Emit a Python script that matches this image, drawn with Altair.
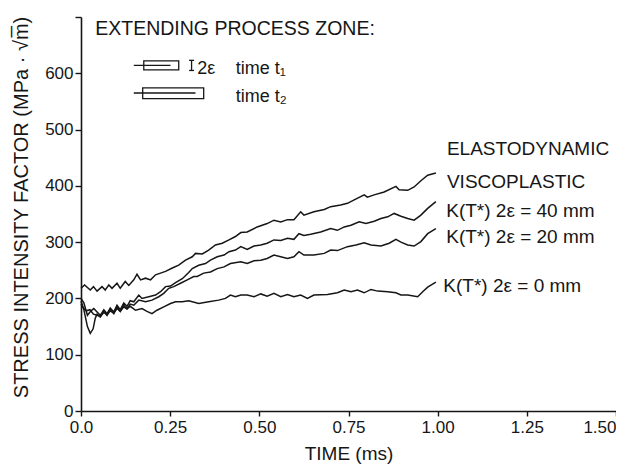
import altair as alt
import pandas as pd

# ---------------- data ----------------
t_top = [0.000, 0.010, 0.026, 0.035, 0.045, 0.059, 0.068, 0.078, 0.087, 0.101, 0.110, 0.124, 0.134,
         0.148, 0.157, 0.167, 0.181, 0.195, 0.209, 0.223, 0.237, 0.256, 0.274, 0.293, 0.312, 0.321,
         0.340, 0.358, 0.377, 0.396, 0.415, 0.433, 0.448, 0.466, 0.494, 0.522, 0.541, 0.560, 0.579,
         0.597, 0.616, 0.625, 0.653, 0.682, 0.700, 0.728, 0.747, 0.766, 0.794, 0.803, 0.822, 0.850,
         0.883, 0.892, 0.916, 0.934, 0.953, 0.972, 0.995]
k_top = [218, 224, 215, 221, 213, 221, 215, 224, 218, 227, 218, 230, 223,
         233, 243, 233, 236, 233, 242, 245, 248, 254, 259, 268, 274, 280,
         279, 286, 295, 298, 304, 310, 317, 318, 327, 333, 339, 336, 340,
         340, 354, 348, 354, 358, 363, 366, 369, 375, 384, 380, 384, 389,
         399, 393, 392, 398, 409, 419, 423]

t_40 = [0.000, 0.008, 0.018, 0.028, 0.036, 0.045, 0.054, 0.064, 0.073, 0.082, 0.092, 0.101, 0.110,
        0.120, 0.129, 0.138, 0.148, 0.162, 0.171, 0.190, 0.209, 0.223, 0.237, 0.251, 0.265, 0.284,
        0.302, 0.312, 0.330, 0.349, 0.363, 0.382, 0.401, 0.415, 0.433, 0.448, 0.466, 0.485, 0.504,
        0.522, 0.541, 0.560, 0.579, 0.597, 0.611, 0.625, 0.644, 0.672, 0.700, 0.719, 0.738, 0.757,
        0.780, 0.799, 0.822, 0.841, 0.860, 0.878, 0.897, 0.916, 0.934, 0.953, 0.972, 0.995]
k_40 = [200, 192, 170, 178, 182, 176, 170, 180, 173, 183, 176, 188, 180,
        192, 186, 196, 194, 206, 200, 203, 206, 212, 221, 222, 228, 235,
        246, 253, 259, 262, 268, 274, 277, 283, 286, 292, 287, 293, 295,
        298, 304, 303, 307, 305, 315, 312, 314, 318, 324, 321, 327, 330,
        336, 333, 337, 342, 345, 351, 346, 342, 339, 348, 360, 372]

t_20 = [0.000, 0.008, 0.018, 0.026, 0.034, 0.040, 0.045, 0.054, 0.064, 0.073, 0.082, 0.092, 0.101,
        0.110, 0.120, 0.129, 0.138, 0.148, 0.162, 0.181, 0.199, 0.218, 0.232, 0.246, 0.260, 0.279,
        0.298, 0.316, 0.326, 0.344, 0.363, 0.382, 0.401, 0.419, 0.448, 0.466, 0.485, 0.504, 0.522,
        0.541, 0.560, 0.579, 0.597, 0.611, 0.625, 0.653, 0.682, 0.700, 0.719, 0.747, 0.771, 0.794,
        0.813, 0.841, 0.864, 0.883, 0.897, 0.916, 0.934, 0.953, 0.972, 0.995]
k_20 = [195, 180, 150, 138, 146, 165, 172, 167, 177, 170, 180, 173, 185,
        177, 188, 182, 190, 188, 197, 194, 197, 203, 209, 218, 221, 227,
        233, 239, 239, 245, 247, 253, 256, 262, 265, 262, 267, 268, 271,
        277, 274, 271, 274, 283, 277, 277, 280, 286, 285, 292, 295, 299,
        295, 293, 298, 305, 300, 295, 293, 301, 315, 324]

t_0 = [0.000, 0.008, 0.015, 0.025, 0.035, 0.045, 0.054, 0.064, 0.073, 0.082, 0.092, 0.101, 0.110,
       0.120, 0.129, 0.138, 0.153, 0.171, 0.185, 0.199, 0.213, 0.232, 0.251, 0.265, 0.284, 0.302,
       0.330, 0.358, 0.386, 0.405, 0.419, 0.433, 0.448, 0.466, 0.485, 0.504, 0.522, 0.541, 0.560,
       0.579, 0.597, 0.616, 0.635, 0.653, 0.691, 0.719, 0.738, 0.757, 0.775, 0.794, 0.813, 0.832,
       0.860, 0.883, 0.897, 0.916, 0.944, 0.958, 0.972, 0.995]
k_0 = [190, 182, 178, 180, 172, 170, 168, 175, 171, 178, 174, 182, 177,
       185, 181, 186, 179, 182, 177, 173, 179, 185, 191, 194, 194, 196,
       191, 194, 197, 200, 206, 203, 206, 206, 203, 208, 204, 209, 203,
       207, 203, 206, 200, 206, 207, 210, 215, 212, 215, 210, 216, 213,
       212, 210, 206, 206, 203, 212, 220, 229]

series_names = ["ELASTODYNAMIC / VISCOPLASTIC", "2e = 40 mm", "2e = 20 mm", "2e = 0 mm"]
series_t = [t_top, t_40, t_20, t_0]
series_k = [k_top, k_40, k_20, k_0]

# curve labels at right end
label_text = ["ELASTODYNAMIC", "VISCOPLASTIC", "K(T*) 2ε = 40 mm", "K(T*) 2ε = 20 mm", "K(T*) 2ε = 0 mm"]
label_t = [1.026, 1.026, 1.024, 1.024, 1.016]
label_k = [455, 396, 345, 298, 212]

# schematic of the extending process zone (upper left)
head_text = ["EXTENDING PROCESS ZONE:"]
head_t = [0.040]
head_k = [668]
sketch_text = ["2ε", "time t₁", "time t₂"]
sketch_t = [0.326, 0.434, 0.434]
sketch_k = [599, 599, 549]
box_t0 = [0.176, 0.173]
box_t1 = [0.274, 0.344]
box_k0 = [606, 555]
box_k1 = [622, 574]
rule_t0 = [0.148, 0.148, 0.310, 0.303, 0.303]
rule_t1 = [0.251, 0.321, 0.310, 0.317, 0.317]
rule_k0 = [614, 565, 605, 605, 623]
rule_k1 = [614, 565, 623, 605, 623]

# ---------------- build ----------------
rows = []
for name, ts, ks in zip(series_names, series_t, series_k):
    for t, k in zip(ts, ks):
        rows.append({"series": name, "t": t, "k": k})
df = pd.DataFrame(rows)

FONT = "Liberation Sans"
INK = "#161616"
xs = alt.Scale(domain=[0, 1.5], nice=False, zero=False)
ys = alt.Scale(domain=[0, 700], nice=False)

x_axis = alt.Axis(
    title="TIME (ms)", values=[0, 0.25, 0.5, 0.75, 1.0, 1.25, 1.5],
    labelExpr="datum.value == 0 ? '0.0' : format(datum.value, '.2f')",
    labelAlign={"condition": {"test": "datum.value >= 1.5", "value": "right"}, "value": "center"},
    grid=False, domainColor=INK, domainWidth=1.6, tickColor=INK, tickWidth=1.4, tickSize=5,
    labelFont=FONT, labelFontSize=17, labelColor=INK, labelPadding=3, labelFlush=False,
    labelOverlap=False, titleFont=FONT, titleFontSize=19, titleFontWeight="normal",
    titleColor=INK, titleY=42, titleBaseline="middle",
)
y_axis = alt.Axis(
    title="STRESS INTENSITY FACTOR (MPa · √m̅)", values=[0, 100, 200, 300, 400, 500, 600, 700],
    labelExpr="datum.value == 700 ? '' : datum.label",
    grid=False, domainColor=INK, domainWidth=1.6, tickColor=INK, tickWidth=1.4, tickSize=6,
    labelFont=FONT, labelFontSize=17, labelColor=INK, labelPadding=2, labelFlush=False,
    titleFont=FONT, titleFontSize=20, titleFontWeight="normal", titleColor=INK,
    titleAngle=270, titleX=-60, titleY=190, titleAlign="center", titleBaseline="middle",
)


def X(field):
    return alt.X(field, type="quantitative", scale=xs, axis=x_axis)


def Y(field):
    return alt.Y(field, type="quantitative", scale=ys, axis=y_axis)


lines = alt.Chart(df).mark_line(color=INK, strokeWidth=1.5).encode(
    x=X("t"), y=Y("k"), detail="series:N",
)

lab_df = pd.DataFrame({"t": label_t, "k": label_k, "text": label_text})
labels = alt.Chart(lab_df).mark_text(
    align="left", baseline="alphabetic", font=FONT, fontSize=19, color=INK
).encode(x=X("t"), y=Y("k"), text="text:N")

head_df = pd.DataFrame({"t": head_t, "k": head_k, "text": head_text})
head = alt.Chart(head_df).mark_text(
    align="left", baseline="alphabetic", font=FONT, fontSize=19.5, color=INK
).encode(x=X("t"), y=Y("k"), text="text:N")

sk_df = pd.DataFrame({"t": sketch_t, "k": sketch_k, "text": sketch_text})
sketch_labels = alt.Chart(sk_df).mark_text(
    align="left", baseline="alphabetic", font=FONT, fontSize=18, color=INK
).encode(x=X("t"), y=Y("k"), text="text:N")

box_df = pd.DataFrame({"t": box_t0, "t1": box_t1, "k": box_k0, "k1": box_k1})
boxes = alt.Chart(box_df).mark_rect(fillOpacity=0, stroke=INK, strokeWidth=1.3).encode(
    x=X("t"), x2="t1:Q", y=Y("k"), y2="k1:Q",
)

rule_df = pd.DataFrame({"t": rule_t0, "t1": rule_t1, "k": rule_k0, "k1": rule_k1})
rules = alt.Chart(rule_df).mark_rule(color=INK, strokeWidth=1.3).encode(
    x=X("t"), x2="t1:Q", y=Y("k"), y2="k1:Q",
)

chart = alt.layer(lines, labels, head, sketch_labels, boxes, rules).properties(
    width=535, height=394,
    autosize=alt.AutoSizeParams(type="none"),
    padding={"left": 73, "top": 9, "right": 0, "bottom": 54},
    background="white",
).configure_view(stroke=None)

chart.save("out.html", embed_options={"renderer": "svg", "actions": False})
